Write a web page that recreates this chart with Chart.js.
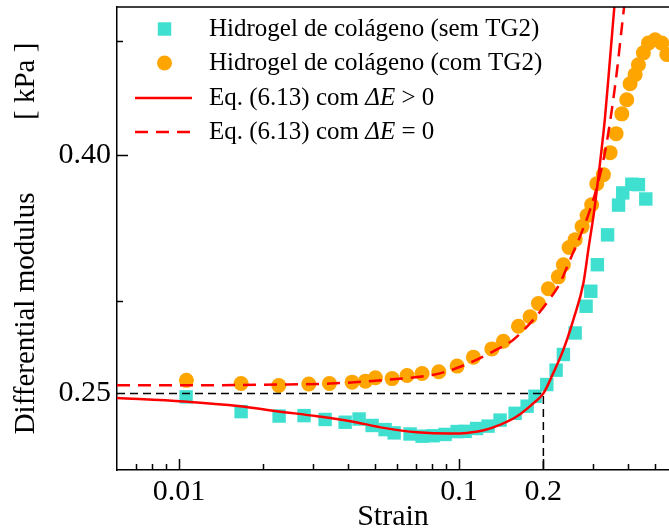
<!DOCTYPE html>
<html>
<head>
<meta charset="utf-8">
<title>Differential modulus vs strain</title>
<script src="https://cdn.jsdelivr.net/npm/chart.js@4.4.1/dist/chart.umd.min.js"></script>
<style>
  html, body { margin: 0; padding: 0; background: #fff; }
  canvas { display: block; }
</style>
</head>
<body>
<canvas id="chart" width="669" height="532"></canvas>
<script>
// ---- Data ----
// collagen hydrogel without TG2
const semStrain = [0.01059, 0.01665, 0.02276, 0.02794, 0.03322, 0.03917, 0.04394, 0.0489, 0.05441, 0.05861,
  0.06683, 0.07376, 0.08074, 0.08913, 0.09838, 0.1051, 0.1155, 0.1269, 0.1401, 0.1585,
  0.175, 0.1868, 0.2057, 0.2221, 0.2358, 0.2597, 0.2842, 0.2954, 0.3118, 0.3391,
  0.3712, 0.3842, 0.414, 0.437, 0.4644];
const semModulus = [0.2483, 0.2412, 0.2391, 0.2393, 0.2375, 0.2362, 0.2377, 0.2347, 0.2328, 0.2313,
  0.2308, 0.2298, 0.2300, 0.2306, 0.2319, 0.2320, 0.2333, 0.2344, 0.2372, 0.2404,
  0.2438, 0.2486, 0.2544, 0.2617, 0.2699, 0.2816, 0.2968, 0.3057, 0.3221, 0.3416,
  0.3622, 0.3710, 0.3774, 0.3771, 0.3666];

// collagen hydrogel with TG2
const comStrain = [0.01062, 0.01665, 0.0227, 0.02905, 0.03442, 0.04148, 0.04628, 0.05024, 0.05765, 0.0652,
  0.07376, 0.08462, 0.09838, 0.1125, 0.1309, 0.1439, 0.1629, 0.1793, 0.192, 0.2084,
  0.2262, 0.2358, 0.2471, 0.2597, 0.275, 0.2865, 0.2974, 0.3103, 0.3276, 0.3462,
  0.3637, 0.3812, 0.3971, 0.408, 0.4252, 0.437, 0.4552, 0.4744, 0.5012, 0.5296, 0.5519];
const comModulus = [0.2565, 0.2549, 0.2539, 0.2547, 0.2549, 0.2556, 0.2561, 0.2578, 0.2574, 0.2590,
  0.2600, 0.2609, 0.2638, 0.2685, 0.2729, 0.2770, 0.2853, 0.2907, 0.2984, 0.3072,
  0.3145, 0.3221, 0.3332, 0.3384, 0.3472, 0.3548, 0.3625, 0.3778, 0.3846, 0.4016,
  0.4169, 0.4335, 0.4457, 0.4600, 0.4683, 0.4775, 0.4888, 0.4983, 0.5016, 0.4983, 0.4872];

// Eq. (6.13), dE > 0
const fitStrain = [0.006, 0.01039, 0.01652, 0.02239, 0.03111, 0.04091, 0.05384, 0.07079, 0.09309, 0.1068,
  0.1225, 0.1405, 0.1611, 0.1849, 0.2, 0.2172, 0.2358, 0.256, 0.278, 0.2901,
  0.3035, 0.3188, 0.3322, 0.3462, 0.3586, 0.3667];
const fitModulus = [0.2478, 0.2461, 0.2438, 0.2414, 0.2390, 0.2367, 0.2336, 0.2316, 0.2310, 0.2313,
  0.2325, 0.2351, 0.2390, 0.2454, 0.2500, 0.2604, 0.2725, 0.2891, 0.3107, 0.3330,
  0.3576, 0.3938, 0.4310, 0.4841, 0.5354, 0.5734];

// Eq. (6.13), dE = 0
const fit0Strain = [0.006, 0.01039, 0.02239, 0.0347, 0.05384, 0.0812, 0.09813, 0.1157, 0.1326, 0.1563,
  0.1843, 0.2057, 0.2294, 0.2491, 0.2705, 0.2937, 0.3136, 0.3322, 0.3491, 0.3667,
  0.3821, 0.3948];
const fit0Modulus = [0.2540, 0.2540, 0.2544, 0.2549, 0.2567, 0.2594, 0.2628, 0.2672, 0.2716, 0.2779,
  0.2891, 0.2988, 0.3107, 0.3253, 0.3406, 0.3590, 0.3786, 0.4024, 0.4327, 0.4728,
  0.5166, 0.5534];

// guide at strain 0.2 / modulus 0.25
const refStrain = [0.006, 0.2, 0.2];
const refModulus = [0.25, 0.25, 0.2];

const xTicks = [0.007, 0.008, 0.009, 0.01, 0.02, 0.03, 0.04, 0.05, 0.06, 0.07, 0.08, 0.09, 0.1, 0.2, 0.3, 0.4, 0.5];
const xTickLabels = ["", "", "", "0.01", "", "", "", "", "", "", "", "", "0.1", "0.2", "", "", ""];
const yTicks = [0.25, 0.3, 0.4, 0.5];
const yTickLabels = ["0.25", "", "0.40", ""];

// ---- Styles ----
const C = {
  sem:  "#40E0D0",
  com:  "#FFA500",
  fit:  "#FF0000",
  axis: "#000000",
};
const SERIF = "'Liberation Serif', 'Times New Roman', serif";

const pts = (xs, ys) => xs.map((x, i) => ({x, y: ys[i]}));

// inward tick marks + top frame line
const frame = {
  id: "frame",
  afterDraw(chart) {
    const {ctx, chartArea: a, scales: {x, y}} = chart;
    ctx.save();
    ctx.strokeStyle = C.axis;
    ctx.lineWidth = 1.5;
    ctx.beginPath();
    ctx.moveTo(a.left, a.top);
    ctx.lineTo(a.right, a.top);
    xTicks.forEach((v, i) => {
      const px = Math.round(x.getPixelForValue(v)) + 0.5;
      const len = xTickLabels[i] ? 11 : 6;
      ctx.moveTo(px, a.bottom);
      ctx.lineTo(px, a.bottom - len);
    });
    yTicks.forEach((v, i) => {
      if (yTickLabels[i] === "0.25") return;
      const py = Math.round(y.getPixelForValue(v)) + 0.5;
      const len = yTickLabels[i] ? 11 : 6;
      ctx.moveTo(a.left, py);
      ctx.lineTo(a.left + len, py);
    });
    ctx.stroke();
    ctx.restore();
  }
};

// legend drawn inside the plot, "ΔE" set in italics
const insideLegend = {
  id: "insideLegend",
  afterDraw(chart) {
    const {ctx} = chart;
    const rows = chart.data.datasets.filter(d => d.label);
    const x0 = 135, x1 = 192, xm = 164.5, xt = 209;
    const rowY = [29, 63, 98, 132];
    const regular = "25px " + SERIF, italic = "italic 25px " + SERIF;
    ctx.save();
    rows.forEach((d, i) => {
      const yy = rowY[i];
      if (d.showLine) {
        ctx.strokeStyle = d.borderColor;
        ctx.lineWidth = d.borderWidth;
        ctx.setLineDash(d.borderDash || []);
        ctx.beginPath();
        ctx.moveTo(x0, yy);
        ctx.lineTo(x1, yy);
        ctx.stroke();
        ctx.setLineDash([]);
      } else if (d.pointStyle === "rect") {
        const s = d.pointRadius * Math.SQRT1_2;
        ctx.fillStyle = d.backgroundColor;
        ctx.fillRect(xm - s, yy - s, 2 * s, 2 * s);
      } else {
        ctx.fillStyle = d.backgroundColor;
        ctx.beginPath();
        ctx.arc(xm, yy, d.pointRadius, 0, Math.PI * 2);
        ctx.fill();
      }
      ctx.fillStyle = C.axis;
      ctx.textBaseline = "alphabetic";
      ctx.textAlign = "left";
      let tx = xt;
      d.label.split(/(ΔE)/).forEach(part => {
        if (!part) return;
        ctx.font = part === "ΔE" ? italic : regular;
        ctx.fillText(part, tx, yy + 7);
        tx += ctx.measureText(part).width;
      });
    });
    ctx.restore();
  }
};

new Chart(document.getElementById("chart"), {
  type: "scatter",
  data: {
    datasets: [
      {
        label: "Hidrogel de colágeno (sem TG2)",
        data: pts(semStrain, semModulus),
        pointStyle: "rect",
        pointRadius: 9.5,
        backgroundColor: C.sem,
        borderWidth: 0,
        order: 3,
      },
      {
        label: "Hidrogel de colágeno (com TG2)",
        data: pts(comStrain, comModulus),
        pointStyle: "circle",
        pointRadius: 7.5,
        backgroundColor: C.com,
        borderWidth: 0,
        order: 2,
      },
      {
        label: "Eq. (6.13) com ΔE > 0",
        data: pts(fitStrain, fitModulus),
        showLine: true,
        pointRadius: 0,
        borderColor: C.fit,
        borderWidth: 2.5,
        cubicInterpolationMode: "monotone",
        order: 1,
      },
      {
        label: "Eq. (6.13) com ΔE = 0",
        data: pts(fit0Strain, fit0Modulus),
        showLine: true,
        pointRadius: 0,
        borderColor: C.fit,
        borderWidth: 2.5,
        borderDash: [13, 8],
        cubicInterpolationMode: "monotone",
        order: 1,
      },
      {
        data: pts(refStrain, refModulus),
        showLine: true,
        pointRadius: 0,
        borderColor: C.axis,
        borderWidth: 1.5,
        borderDash: [8, 5],
        order: 0,
      },
    ]
  },
  options: {
    responsive: false,
    animation: false,
    devicePixelRatio: 1,
    events: [],
    layout: { autoPadding: false, padding: { top: 7, right: 0, bottom: 0, left: 0 } },
    plugins: { legend: { display: false }, tooltip: { enabled: false } },
    scales: {
      x: {
        type: "logarithmic",
        position: "bottom",
        min: 0.006,
        max: 0.562,
        bounds: "data",
        afterBuildTicks: s => { s.ticks = xTicks.map(v => ({value: v})); },
        afterFit: s => { s.height = 62; s.paddingLeft = 0; s.paddingRight = 0; },
        grid: { display: false, drawTicks: false },
        border: { display: true, color: C.axis, width: 1.5 },
        ticks: {
          autoSkip: false,
          maxRotation: 0,
          padding: 4,
          color: C.axis,
          font: { family: SERIF, size: 30 },
          callback: (v, i) => xTickLabels[i],
        },
        title: {
          display: true,
          text: "Strain",
          color: C.axis,
          font: { family: SERIF, size: 30, lineHeight: 1 },
          padding: 0,
        },
      },
      y: {
        type: "logarithmic",
        position: "left",
        min: 0.215,
        max: 0.535,
        bounds: "data",
        afterBuildTicks: s => { s.ticks = yTicks.map(v => ({value: v})); },
        afterFit: s => { s.width = 117; s.paddingTop = 0; s.paddingBottom = 0; },
        grid: { display: false, drawTicks: false },
        border: { display: true, color: C.axis, width: 1.5 },
        ticks: {
          autoSkip: false,
          padding: 6,
          color: C.axis,
          font: { family: SERIF, size: 30 },
          callback: (v, i) => yTickLabels[i],
        },
        title: {
          display: true,
          text: "Differential modulus          [ kPa ]",
          color: C.axis,
          font: { family: SERIF, size: 29, lineHeight: 1 },
          padding: { top: 12, bottom: 0 },
        },
      },
    },
  },
  plugins: [frame, insideLegend],
});
</script>
</body>
</html>
